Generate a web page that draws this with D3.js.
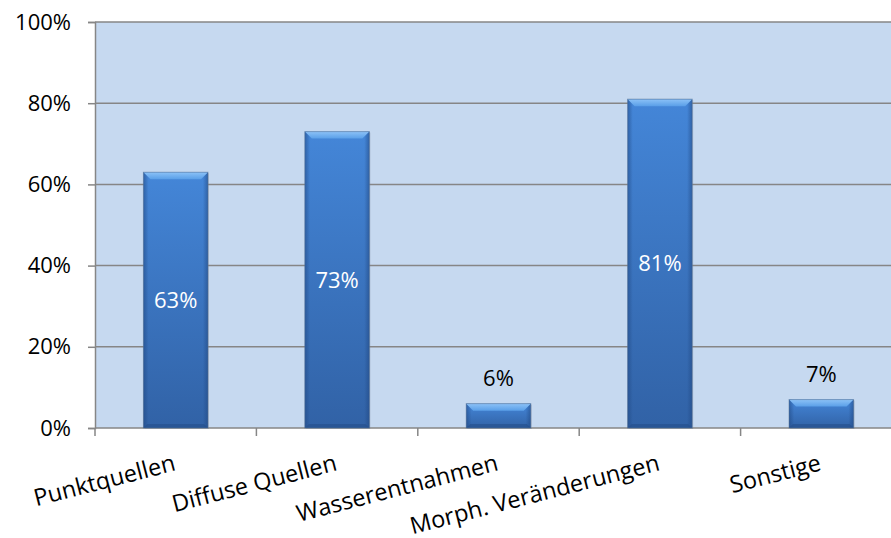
<!DOCTYPE html>
<html>
<head>
<meta charset="utf-8">
<script src="https://cdn.jsdelivr.net/npm/d3@7"></script>
<style>
  html, body { margin: 0; padding: 0; background: #fff; }
  svg { display: block; }
  text { font-family: "Open Sans", sans-serif; }
</style>
</head>
<body>
<svg id="chart" width="891" height="538"></svg>
<script>
const categories = ["Punktquellen", "Diffuse Quellen", "Wasserentnahmen", "Morph. Veränderungen", "Sonstige"];
const values = [0.63, 0.73, 0.06, 0.81, 0.07];
const yTicks = [0, 0.2, 0.4, 0.6, 0.8, 1.0];

const W = 891, H = 538;
const m = { left: 95, top: 22, bottom: 428, right: 902 };

const svg = d3.select("#chart");
const defs = svg.append("defs");

const body = defs.append("linearGradient").attr("id", "barBody").attr("x1", 0).attr("y1", 0).attr("x2", 0).attr("y2", 1);
body.append("stop").attr("offset", "0%").attr("stop-color", "#4486d8");
body.append("stop").attr("offset", "100%").attr("stop-color", "#3162a6");

const side = defs.append("linearGradient").attr("id", "barSide").attr("x1", 0).attr("y1", 0).attr("x2", 1).attr("y2", 0);
side.append("stop").attr("offset", "0%").attr("stop-color", "#1f4680").attr("stop-opacity", 0.55);
side.append("stop").attr("offset", "8%").attr("stop-color", "#1f4680").attr("stop-opacity", 0.0);
side.append("stop").attr("offset", "92%").attr("stop-color", "#1f4680").attr("stop-opacity", 0.0);
side.append("stop").attr("offset", "100%").attr("stop-color", "#1f4680").attr("stop-opacity", 0.55);

const topG = defs.append("linearGradient").attr("id", "barTop").attr("x1", 0).attr("y1", 0).attr("x2", 0).attr("y2", 1);
topG.append("stop").attr("offset", "0%").attr("stop-color", "#8cc2f7");
topG.append("stop").attr("offset", "100%").attr("stop-color", "#5a9fe8");

const x = d3.scaleBand().domain(categories).range([m.left, m.right]).paddingInner(0.6).paddingOuter(0.3);
const y = d3.scaleLinear().domain([0, 1]).range([m.bottom, m.top]);

// plot background
svg.append("rect").attr("x", m.left).attr("y", m.top).attr("width", W - m.left).attr("height", m.bottom - m.top).attr("fill", "#c6d9f0");

// gridlines + y axis
const yAxis = d3.axisLeft(y).tickValues(yTicks).tickFormat(d3.format(".0%")).tickSize(7).tickPadding(17);
const yg = svg.append("g").attr("transform", `translate(${m.left},0)`).call(yAxis);
yg.select(".domain").attr("stroke", "#868686").attr("stroke-width", 1.5);
yg.selectAll(".tick line").attr("stroke", "#868686").attr("stroke-width", 1.5);
yg.selectAll(".tick text").attr("font-size", 22).attr("fill", "#000").attr("font-family", "Open Sans, sans-serif");

svg.append("g").selectAll("line").data(yTicks.filter(d => d > 0)).join("line")
  .attr("x1", m.left).attr("x2", W).attr("y1", d => y(d)).attr("y2", d => y(d))
  .attr("stroke", "#868686").attr("stroke-width", 1.5);

// x axis baseline and ticks at band boundaries
svg.append("line").attr("x1", m.left).attr("x2", W).attr("y1", y(0)).attr("y2", y(0)).attr("stroke", "#868686").attr("stroke-width", 1.5);
const step = x.step();
const bounds = d3.range(categories.length + 1).map(i => m.left + i * step);
svg.append("g").selectAll("line").data(bounds).join("line")
  .attr("x1", d => d).attr("x2", d => d).attr("y1", y(0)).attr("y2", y(0) + 8)
  .attr("stroke", "#868686").attr("stroke-width", 1.5);

// bars
const bw = x.bandwidth();
const bars = svg.append("g").selectAll("g").data(categories.map((c, i) => ({ c, v: values[i] }))).join("g");
bars.each(function(d) {
  const g = d3.select(this);
  const x0 = x(d.c), y0 = y(d.v), y1 = y(0), h = y1 - y0;
  g.append("rect").attr("x", x0 + 1).attr("y", y0 + 1).attr("width", bw).attr("height", h).attr("fill", "#7a8898").attr("opacity", 0.35);
  g.append("rect").attr("x", x0).attr("y", y0).attr("width", bw).attr("height", h).attr("fill", "url(#barBody)");
  g.append("rect").attr("x", x0).attr("y", y0).attr("width", bw).attr("height", h).attr("fill", "url(#barSide)");
  const b = Math.min(7, h / 2);
  g.append("path").attr("d", `M${x0},${y0} L${x0 + bw},${y0} L${x0 + bw - b},${y0 + b} L${x0 + b},${y0 + b} Z`).attr("fill", "url(#barTop)");
  const bb = Math.min(4, h / 3);
  g.append("path").attr("d", `M${x0},${y1} L${x0 + bw},${y1} L${x0 + bw - bb},${y1 - bb} L${x0 + bb},${y1 - bb} Z`).attr("fill", "#244f8a").attr("opacity", 0.6);
  g.append("rect").attr("x", x0).attr("y", y0).attr("width", bw).attr("height", h).attr("fill", "none").attr("stroke", "#56708f").attr("stroke-opacity", 0.5).attr("stroke-width", 1);
});

// value labels
const fmt = d3.format(".0%");
bars.append("text")
  .attr("x", d => x(d.c) + bw / 2)
  .attr("y", d => d.v >= 0.2 ? (y(d.v) + y(0)) / 2 : y(d.v) - 18)
  .attr("dy", d => d.v >= 0.2 ? "0.35em" : 0)
  .attr("text-anchor", "middle")
  .attr("font-size", 22)
  .attr("fill", d => d.v >= 0.2 ? "#fff" : "#000")
  .text(d => fmt(d.v));

// category labels
svg.append("g").selectAll("text").data(categories).join("text")
  .attr("transform", d => `translate(${x(d) + bw / 2 + 1},470) rotate(-14.5)`)
  .attr("text-anchor", "end")
  .attr("font-size", 23.5)
  .attr("fill", "#000")
  .text(d => d);
</script>
</body>
</html>
